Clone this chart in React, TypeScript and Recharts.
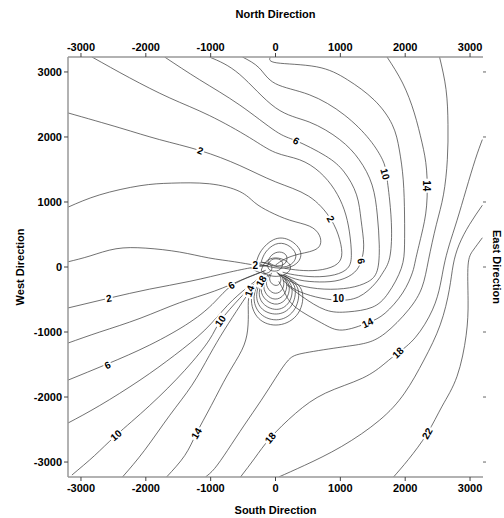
import React from "react";
import {
  ComposedChart,
  Line,
  Scatter,
  XAxis,
  YAxis,
} from "recharts";

type Pt = [number, number];

// axis ticks (metres)
const ticks = [-3000, -2000, -1000, 0, 1000, 2000, 3000];

// contours reaching round the north-east side, back into the source from the east
const c2East: Pt[] = [[-3200, 2370], [-2400, 2140], [-1790, 1960], [-1160, 1790], [-550, 1560], [0, 1310], [510, 1090], [850, 740], [990, 420], [1020, 170], [910, 20], [650, -50], [370, -50], [140, -20]];
const c4East: Pt[] = [[-2830, 3230], [-2250, 2910], [-1630, 2600], [-1020, 2330], [-400, 1990], [0, 1760], [370, 1650], [680, 1460], [910, 1190], [1060, 880], [1140, 540], [1170, 180], [1110, -20], [910, -120], [600, -150], [290, -120], [110, -80]];
const c6East: Pt[] = [[-1710, 3230], [-1170, 2880], [-550, 2490], [0, 2090], [320, 1940], [770, 1710], [1060, 1460], [1250, 1110], [1320, 720], [1360, 340], [1320, 90], [1220, -80], [990, -200], [680, -230], [370, -200], [140, -120]];
const c8East: Pt[] = [[-1020, 3230], [-550, 2960], [0, 2450], [520, 2230], [990, 1960], [1290, 1650], [1490, 1260], [1570, 800], [1600, 340], [1570, -50], [1420, -230], [1140, -320], [750, -340], [370, -280], [140, -170]];
const c10East: Pt[] = [[-510, 3230], [-250, 3060], [0, 2820], [520, 2650], [1060, 2340], [1450, 1960], [1650, 1650], [1710, 1430], [1760, 1030], [1790, 570], [1760, 140], [1660, -80], [1540, -250], [1280, -460], [950, -510], [620, -460], [310, -350], [110, -200]];
const c12East: Pt[] = [[-80, 3230], [20, 3140], [630, 3080], [1110, 2880], [1520, 2570], [1800, 2190], [1910, 1800], [1970, 1340], [1990, 800], [1990, 340], [1940, -20], [1740, -400], [1490, -620], [1120, -690], [770, -660], [420, -460], [180, -280]];
const c14East: Pt[] = [[1720, 3230], [1960, 2830], [2140, 2370], [2260, 1910], [2330, 1490], [2330, 940], [2250, 490], [2160, 110], [2110, -90], [1960, -400], [1690, -710], [1420, -860], [1030, -970], [710, -860], [310, -620], [140, -390], [50, -220]];

// contours passing south of the source
const c16: Pt[] = [[2530, 3230], [2630, 2730], [2660, 2190], [2650, 1650], [2590, 1110], [2480, 650], [2360, 110], [2260, -310], [2050, -660], [1690, -1020], [1390, -1170], [1030, -1230], [460, -1320], [200, -1430], [0, -1710], [-220, -2050], [-480, -2430], [-740, -2820], [-940, -3100], [-1080, -3230]];
const c18: Pt[] = [[3190, 1960], [3080, 1650], [2940, 1190], [2800, 720], [2680, 340], [2600, 30], [2540, -280], [2420, -660], [2160, -1080], [1890, -1320], [1690, -1480], [1340, -1710], [770, -1940], [310, -2250], [-80, -2630], [-320, -2940], [-540, -3230]];
const c20: Pt[] = [[3190, 950], [2990, 650], [2830, 340], [2740, 30], [2680, -350], [2540, -890], [2290, -1430], [1990, -1940], [1600, -2360], [1020, -2760], [450, -3050], [50, -3230]];
const c22: Pt[] = [[3190, 450], [3050, 260], [2970, 30], [2970, -510], [2940, -1050], [2800, -1680], [2570, -2140], [2340, -2560], [2050, -2960], [1820, -3230]];

// contours fanning out of the source to the west and south-west
const c2West: Pt[] = [[-3200, -630], [-2570, -480], [-1940, -340], [-1320, -220], [-710, -80], [-310, 0], [-120, 20]];
const c4West: Pt[] = [[-3200, -1170], [-2710, -1000], [-2090, -790], [-1480, -550], [-940, -370], [-480, -180], [-170, -60]];
const c6West: Pt[] = [[-3200, -1740], [-2590, -1490], [-1940, -1200], [-1320, -850], [-940, -540], [-680, -290], [-370, -140], [-150, -50]];
const c8West: Pt[] = [[-3200, -2400], [-2710, -2130], [-2090, -1740], [-1560, -1360], [-1090, -970], [-740, -590], [-430, -310], [-170, -110]];
const c10West: Pt[] = [[-3140, -3200], [-2790, -2900], [-2460, -2590], [-1940, -2130], [-1400, -1590], [-1020, -1120], [-850, -830], [-550, -480], [-320, -250], [-150, -110]];
const c12West: Pt[] = [[-2360, -3230], [-2020, -2820], [-1630, -2280], [-1290, -1820], [-1020, -1360], [-790, -970], [-550, -600], [-370, -350], [-180, -170]];
const c14West: Pt[] = [[-1680, -3230], [-1400, -2900], [-1220, -2560], [-990, -2130], [-740, -1660], [-520, -1280], [-430, -970], [-420, -660], [-400, -430], [-280, -260], [-150, -150]];

// low lobes north-west of the source
const lobeA: Pt[] = [[-3200, 920], [-2710, 1110], [-2090, 1250], [-1600, 1290], [-1020, 1280], [-550, 1160], [-320, 990], [-90, 850], [220, 720], [520, 630], [680, 480], [650, 290], [370, 200], [140, 120], [0, 30]];
const lobeB: Pt[] = [[-3200, 80], [-2860, 170], [-2460, 280], [-2000, 290], [-1480, 230], [-1030, 140], [-630, 80], [-320, 30], [-120, 20]];
const loopC3: Pt[] = [[-300, 60], [-220, 250], [-30, 420], [200, 420], [380, 250], [330, 60], [80, -20], [-300, 60]];
const loopC: Pt[] = [[-220, 80], [-150, 230], [0, 350], [180, 340], [310, 200], [250, 50], [60, 0], [-220, 80]];
const loopC2: Pt[] = [[-120, 80], [-60, 180], [60, 230], [170, 170], [140, 50], [0, 20], [-120, 80]];

// closed loops round the source itself
const loopU0: Pt[] = [[-60, -90], [-90, -180], [-50, -260], [30, -280], [80, -220], [70, -140], [20, -80]];
const loopU1: Pt[] = [[-90, -110], [-140, -250], [-80, -370], [30, -400], [120, -310], [110, -170], [30, -90]];
const loopU15: Pt[] = [[-120, -120], [-180, -300], [-110, -450], [30, -490], [150, -390], [160, -220], [40, -100]];
const loopU2: Pt[] = [[-150, -140], [-220, -350], [-140, -510], [30, -570], [180, -460], [200, -260], [60, -110]];
const loopU25: Pt[] = [[-170, -140], [-250, -390], [-170, -580], [40, -650], [220, -520], [240, -280], [80, -110]];
const loopU3: Pt[] = [[-200, -150], [-290, -420], [-200, -650], [50, -720], [260, -570], [290, -290], [110, -120]];
const loopU35: Pt[] = [[-220, -160], [-330, -450], [-230, -720], [50, -810], [300, -640], [340, -320], [120, -130]];
const loopU4: Pt[] = [[-250, -180], [-370, -480], [-260, -790], [50, -890], [350, -710], [400, -350], [140, -140]];
const loopT1: Pt[] = [[-120, 20], [-60, 110], [50, 120], [110, 50], [50, -50], [-80, -50], [-120, 20]];
const loopT2: Pt[] = [[-220, -50], [-150, 80], [0, 140], [180, 80], [220, -50], [60, -140], [-120, -120], [-220, -50]];
const loopL1: Pt[] = [[-380, -20], [-250, 60], [-100, 50], [-60, -40], [-180, -100], [-380, -20]];

const contours: Pt[][] = [
  c2East, c4East, c6East, c8East, c10East, c12East, c14East,
  c16, c18, c20, c22,
  c2West, c4West, c6West, c8West, c10West, c12West, c14West,
  lobeA, lobeB, loopC3, loopC, loopC2,
  loopU0, loopU1, loopU15, loopU2, loopU25, loopU3, loopU35, loopU4,
  loopT1, loopT2, loopL1,
];

// contour labels: position, text, rotation
const labelX = [-1160, 320, 1690, 2330, 850, 1320, 970, 1420, 1890, 2340, -2570, -2590, -2460, -1220, -80, -310, -680, -850, -400, -220];
const labelY = [1790, 1940, 1430, 1250, 740, 90, -490, -860, -1320, -2560, -480, -1510, -2590, -2560, -2630, 20, -280, -830, -370, -220];
const labelText = ["2", "6", "10", "14", "2", "6", "10", "14", "18", "22", "2", "6", "10", "14", "18", "2", "6", "10", "14", "18"];
const labelAngle = [20, 30, 75, 90, 60, 80, 0, -25, -45, -60, -10, -25, -40, -60, -50, 0, -30, -55, -70, -60];

const labels = labelX.map((x, i) => ({
  x,
  y: labelY[i],
  text: labelText[i],
  angle: labelAngle[i],
}));

const font = "'Liberation Sans', Arial, sans-serif";
const tickStyle = { fontSize: 11, fontWeight: 700, fill: "#000", fontFamily: font };
const titleStyle = { fontSize: 11, fontWeight: 700, fill: "#000", fontFamily: font, textAnchor: "middle" as const };

function ContourLabel(props: any) {
  const { cx, cy, payload } = props;
  const w = payload.text.length * 6 + 2;
  return (
    <g transform={`translate(${cx},${cy}) rotate(${payload.angle})`}>
      <rect x={-w / 2} y={-5} width={w} height={10} fill="#fff" />
      <text
        textAnchor="middle"
        dominantBaseline="central"
        fontSize={10}
        fontWeight={700}
        fontFamily={font}
        fill="#000"
      >
        {payload.text}
      </text>
    </g>
  );
}

export default function App() {
  return (
    <div style={{ position: "absolute", left: 0, top: 0, width: 504, height: 518, background: "#fff" }}>
      <ComposedChart width={504} height={518} margin={{ top: 0, right: 0, bottom: 0, left: 0 }}>
        <XAxis
          xAxisId="top"
          orientation="top"
          type="number"
          dataKey="x"
          domain={[-3200, 3200]}
          ticks={ticks}
          allowDataOverflow
          height={57}
          tick={tickStyle}
          tickSize={4}
          tickMargin={2}
          axisLine={{ stroke: "#999", strokeWidth: 1.5 }}
          tickLine={{ stroke: "#444" }}
          label={{ value: "North Direction", position: "insideTop", offset: 10, style: titleStyle }}
        />
        <XAxis
          xAxisId="bottom"
          orientation="bottom"
          type="number"
          dataKey="x"
          domain={[-3200, 3200]}
          ticks={ticks}
          allowDataOverflow
          height={41}
          tick={tickStyle}
          tickSize={4}
          tickMargin={3}
          axisLine={{ stroke: "#999", strokeWidth: 1.5 }}
          tickLine={{ stroke: "#444" }}
          label={{ value: "South Direction", position: "insideBottom", offset: 4, style: titleStyle }}
        />
        <YAxis
          yAxisId="left"
          orientation="left"
          type="number"
          dataKey="y"
          domain={[-3230, 3230]}
          ticks={ticks}
          allowDataOverflow
          width={68}
          tick={tickStyle}
          tickSize={4}
          tickMargin={2}
          axisLine={{ stroke: "#999", strokeWidth: 1.5 }}
          tickLine={{ stroke: "#444" }}
          label={{ value: "West Direction", position: "insideLeft", angle: -90, offset: 20, style: titleStyle }}
        />
        <YAxis
          yAxisId="right"
          orientation="right"
          type="number"
          dataKey="y"
          domain={[-3230, 3230]}
          ticks={ticks}
          allowDataOverflow
          width={21}
          tick={() => <g />}
          tickSize={3}
          axisLine={false}
          tickLine={{ stroke: "#666" }}
          label={{ value: "East Direction", position: "insideRight", angle: 90, offset: 7, style: titleStyle }}
        />
        {contours.map((c, i) => (
          <Line
            key={i}
            data={c.map(([x, y]) => ({ x, y }))}
            dataKey="y"
            xAxisId="bottom"
            yAxisId="left"
            type="natural"
            stroke="#333"
            strokeWidth={0.7}
            dot={false}
            activeDot={false}
            isAnimationActive={false}
          />
        ))}
        <Scatter
          data={labels}
          dataKey="y"
          xAxisId="bottom"
          yAxisId="left"
          shape={ContourLabel}
          isAnimationActive={false}
        />
      </ComposedChart>
    </div>
  );
}
